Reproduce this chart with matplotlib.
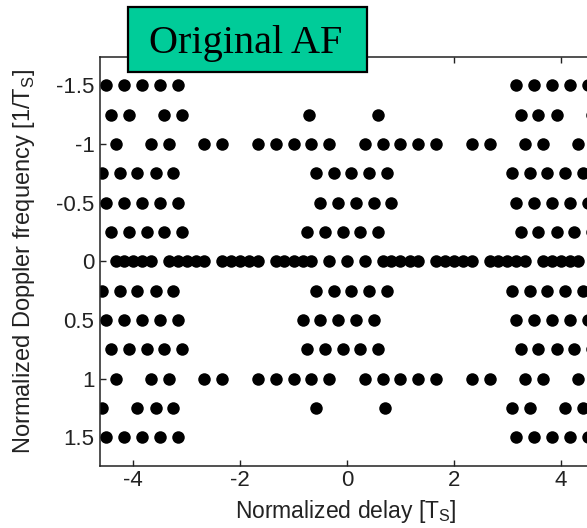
import matplotlib
matplotlib.use('Agg')
import matplotlib.pyplot as plt
from matplotlib.patches import Rectangle

plt.rcParams['font.family'] = ['Liberation Sans', 'DejaVu Sans']
plt.rcParams['axes.unicode_minus'] = False

# ---- data: delay positions of the dots in each Doppler row ----
doppler_rows = [-1.5, -1.25, -1.0, -0.75, -0.5, -0.25, 0.0, 0.25, 0.5, 0.75, 1.0, 1.25, 1.5]

delays_m150 = [-4.5, -4.17, -3.83, -3.5, -3.17, 3.17, 3.5, 3.83, 4.17, 4.5]
delays_m125 = [-4.42, -4.08, -3.42, -3.08, -0.72, 0.58, 3.25, 3.58, 3.92, 4.58]
delays_m100 = [-4.33, -3.67, -3.33, -2.67, -2.33, -1.67, -1.33, -1.0, -0.67, -0.33,
               0.33, 0.67, 1.0, 1.33, 1.67, 2.33, 2.67, 3.33, 3.67, 4.33]
delays_m075 = [-4.58, -4.25, -3.92, -3.58, -3.25, -0.58, -0.25, 0.08, 0.42, 0.75,
               3.08, 3.42, 3.75, 4.08, 4.42]
delays_m050 = [-4.5, -4.17, -3.83, -3.5, -3.17, -0.5, -0.17, 0.17, 0.5, 0.83,
               3.17, 3.5, 3.83, 4.17, 4.5]
delays_m025 = [-4.42, -4.08, -3.75, -3.42, -3.08, -0.75, -0.42, -0.08, 0.25, 0.58,
               3.25, 3.58, 3.92, 4.25, 4.58]
delays_000 = [-4.33, -4.17, -4.0, -3.83, -3.67,
              -3.33, -3.17, -3.0, -2.83, -2.67,
              -2.33, -2.17, -2.0, -1.83, -1.67,
              -1.33, -1.17, -1.0, -0.83, -0.67,
              -0.33, 0.0, 0.33,
              0.67, 0.83, 1.0, 1.17, 1.33,
              1.67, 1.83, 2.0, 2.17, 2.33,
              2.67, 2.83, 3.0, 3.17, 3.33,
              3.67, 3.83, 4.0, 4.17, 4.33]
delays_p025 = [-4.58, -4.25, -3.92, -3.58, -3.25, -0.58, -0.25, 0.08, 0.42, 0.75,
               3.08, 3.42, 3.75, 4.08, 4.42]
delays_p050 = [-4.5, -4.17, -3.83, -3.5, -3.17, -0.83, -0.5, -0.17, 0.17, 0.5,
               3.17, 3.5, 3.83, 4.17, 4.5]
delays_p075 = [-4.42, -4.08, -3.75, -3.42, -3.08, -0.75, -0.42, -0.08, 0.25, 0.58,
               3.25, 3.58, 3.92, 4.25, 4.58]
delays_p100 = [-4.33, -3.67, -3.33, -2.67, -2.33, -1.67, -1.33, -1.0, -0.67, -0.33,
               0.33, 0.67, 1.0, 1.33, 1.67, 2.33, 2.67, 3.33, 3.67, 4.33]
delays_p125 = [-4.58, -3.92, -3.58, -3.25, -0.58, 0.72, 3.08, 3.42, 4.08, 4.42]
delays_p150 = [-4.5, -4.17, -3.83, -3.5, -3.17, 3.17, 3.5, 3.83, 4.17, 4.5]

row_delays = [delays_m150, delays_m125, delays_m100, delays_m075, delays_m050,
              delays_m025, delays_000, delays_p025, delays_p050, delays_p075,
              delays_p100, delays_p125, delays_p150]

x_ticks = [-4, -2, 0, 2, 4]
y_ticks = [-1.5, -1, -0.5, 0, 0.5, 1, 1.5]
y_ticklabels = ['-1.5', '-1', '-0.5', '0', '0.5', '1', '1.5']
title_text = 'Original AF'

# ---- figure ----
W, H = 587, 528
fig = plt.figure(figsize=(W / 100, H / 100), dpi=100)
ax = fig.add_axes([100 / W, 1 - 466 / H, 494 / W, 409 / H])

for nu, ds in zip(doppler_rows, row_delays):
    ax.plot(ds, [nu] * len(ds), linestyle='none', marker='o', markersize=9,
            color='black', markeredgewidth=0)

ax.set_xlim(-4.62, 4.62)
ax.set_ylim(1.745, -1.74)
ax.set_xticks(x_ticks)
ax.set_xticklabels([str(t) for t in x_ticks])
ax.set_yticks(y_ticks)
ax.set_yticklabels(y_ticklabels)

for s in ax.spines.values():
    s.set_linewidth(1.1)
    s.set_color('#222222')

ax.tick_params(direction='in', length=4, width=1.0, colors='#222222',
               labelsize=16, top=True, right=True, pad=4)
ax.tick_params(axis='x', pad=3)

ax.set_xlabel('Normalized delay [T$_\\mathregular{S}$]', fontsize=16.5, color='#222222',
              va='top')
ax.set_ylabel('Normalized Doppler frequency [1/T$_\\mathregular{S}$]', fontsize=17,
              color='#222222')
ax.xaxis.set_label_coords(0.497, -0.078)
ax.yaxis.set_label_coords(-0.128, 0.5)

# title box
fig.patches.append(Rectangle((128 / W, 1 - 72 / H), 239 / W, 65 / H,
                             transform=fig.transFigure, facecolor='#00CC99',
                             edgecolor='black', linewidth=1.6, zorder=5))
fig.text(246 / W, 1 - 53 / H, title_text, ha='center', va='baseline',
         fontsize=29, family='Liberation Serif', color='black', zorder=6)

fig.savefig('out.png', dpi=100)
